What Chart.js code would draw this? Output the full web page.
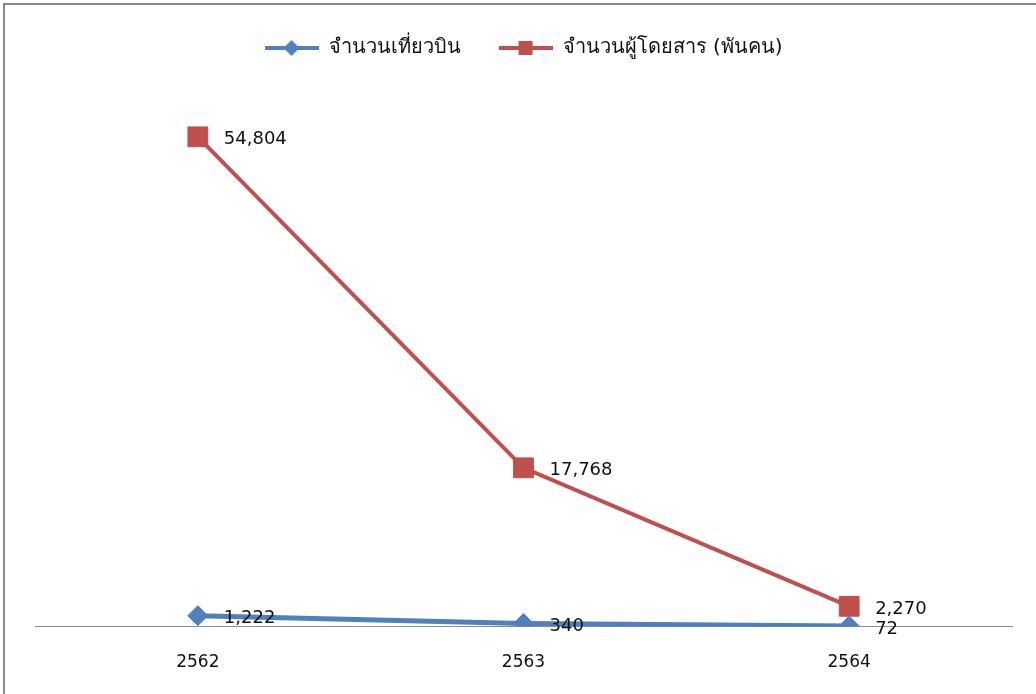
<!DOCTYPE html>
<html>
<head>
<meta charset="utf-8">
<script src="https://cdn.jsdelivr.net/npm/chart.js@4"></script>
<style>
  html, body { margin: 0; padding: 0; background: #fff; }
  #wrap { position: relative; width: 1036px; height: 694px; overflow: hidden; }
  #frame { position: absolute; left: 3px; top: 3px; width: 1100px; height: 800px;
           border-left: 2px solid #8a8a8a; border-top: 2px solid #8a8a8a; pointer-events: none; }
  canvas { position: absolute; left: 0; top: 0; }
</style>
</head>
<body>
<div id="wrap">
  <canvas id="chart" width="1036" height="694"></canvas>
  <div id="frame"></div>
</div>
<script>
// data
const years = ["2562", "2563", "2564"];
const flights = [1222, 340, 72];
const passengers = [54804, 17768, 2270];
const seriesNames = ["จำนวนเที่ยวบิน", "จำนวนผู้โดยสาร (พันคน)"];

const BLUE = "#4F81BD";
const RED = "#C0504D";
const FONT = "'DejaVu Sans', Tahoma, 'Noto Sans', sans-serif";

// legend marker: short line with the series marker on it
function legendIcon(color, shape) {
    const c = document.createElement("canvas");
    c.width = 54;
    c.height = 20;
    const ctx = c.getContext("2d");
    ctx.strokeStyle = color;
    ctx.fillStyle = color;
    ctx.lineWidth = 4;
    ctx.beginPath();
    ctx.moveTo(0, 10);
    ctx.lineTo(54, 10);
    ctx.stroke();
    ctx.beginPath();
    if (shape === "diamond") {
        ctx.moveTo(27, 2);
        ctx.lineTo(35, 10);
        ctx.lineTo(27, 18);
        ctx.lineTo(19, 10);
    } else {
        ctx.rect(20, 3, 14, 14);
    }
    ctx.fill();
    return c;
}

const valueLabels = {
    id: "valueLabels",
    afterDatasetsDraw(chart) {
        const ctx = chart.ctx;
        ctx.save();
        ctx.font = "18px " + FONT;
        ctx.fillStyle = "#111";
        ctx.textAlign = "left";
        ctx.textBaseline = "middle";
        chart.data.datasets.forEach((ds, i) => {
            chart.getDatasetMeta(i).data.forEach((pt, j) => {
                ctx.fillText(ds.data[j].toLocaleString("en-US"), pt.x + 26, pt.y + 3);
            });
        });
        ctx.restore();
    },
};

new Chart(document.getElementById("chart"), {
    type: "line",
    data: {
        labels: years,
        datasets: [
            {
                label: seriesNames[0],
                data: flights,
                borderColor: BLUE,
                backgroundColor: BLUE,
                borderWidth: 5,
                pointStyle: "rectRot",
                pointRadius: 10,
                pointBorderWidth: 1,
                legendIcon: legendIcon(BLUE, "diamond"),
            },
            {
                label: seriesNames[1],
                data: passengers,
                borderColor: RED,
                backgroundColor: RED,
                borderWidth: 4,
                pointStyle: "rect",
                pointRadius: 14,
                pointBorderWidth: 1,
                legendIcon: legendIcon(RED, "square"),
            },
        ],
    },
    options: {
        responsive: false,
        animation: false,
        layout: { padding: { left: 35, right: 24, top: 0, bottom: -5 } },
        plugins: {
            legend: {
                position: "top",
                labels: {
                    usePointStyle: true,
                    pointStyleWidth: 54,
                    padding: 38,
                    color: "#111",
                    font: { family: FONT, size: 20 },
                    generateLabels(chart) {
                        return chart.data.datasets.map((ds, i) => ({
                            text: ds.label,
                            pointStyle: ds.legendIcon,
                            fillStyle: ds.borderColor,
                            strokeStyle: ds.borderColor,
                            fontColor: "#111",
                            lineWidth: 0,
                            datasetIndex: i,
                        }));
                    },
                },
            },
            tooltip: { enabled: false },
        },
        scales: {
            x: {
                offset: true,
                grid: { display: false, drawTicks: false },
                border: { color: "#8c8c8c", width: 1 },
                ticks: { color: "#111", padding: 26, font: { family: FONT, size: 17 } },
            },
            y: {
                display: false,
                min: 0,
                max: 62500,
            },
        },
    },
    plugins: [valueLabels],
});
</script>
</body>
</html>
